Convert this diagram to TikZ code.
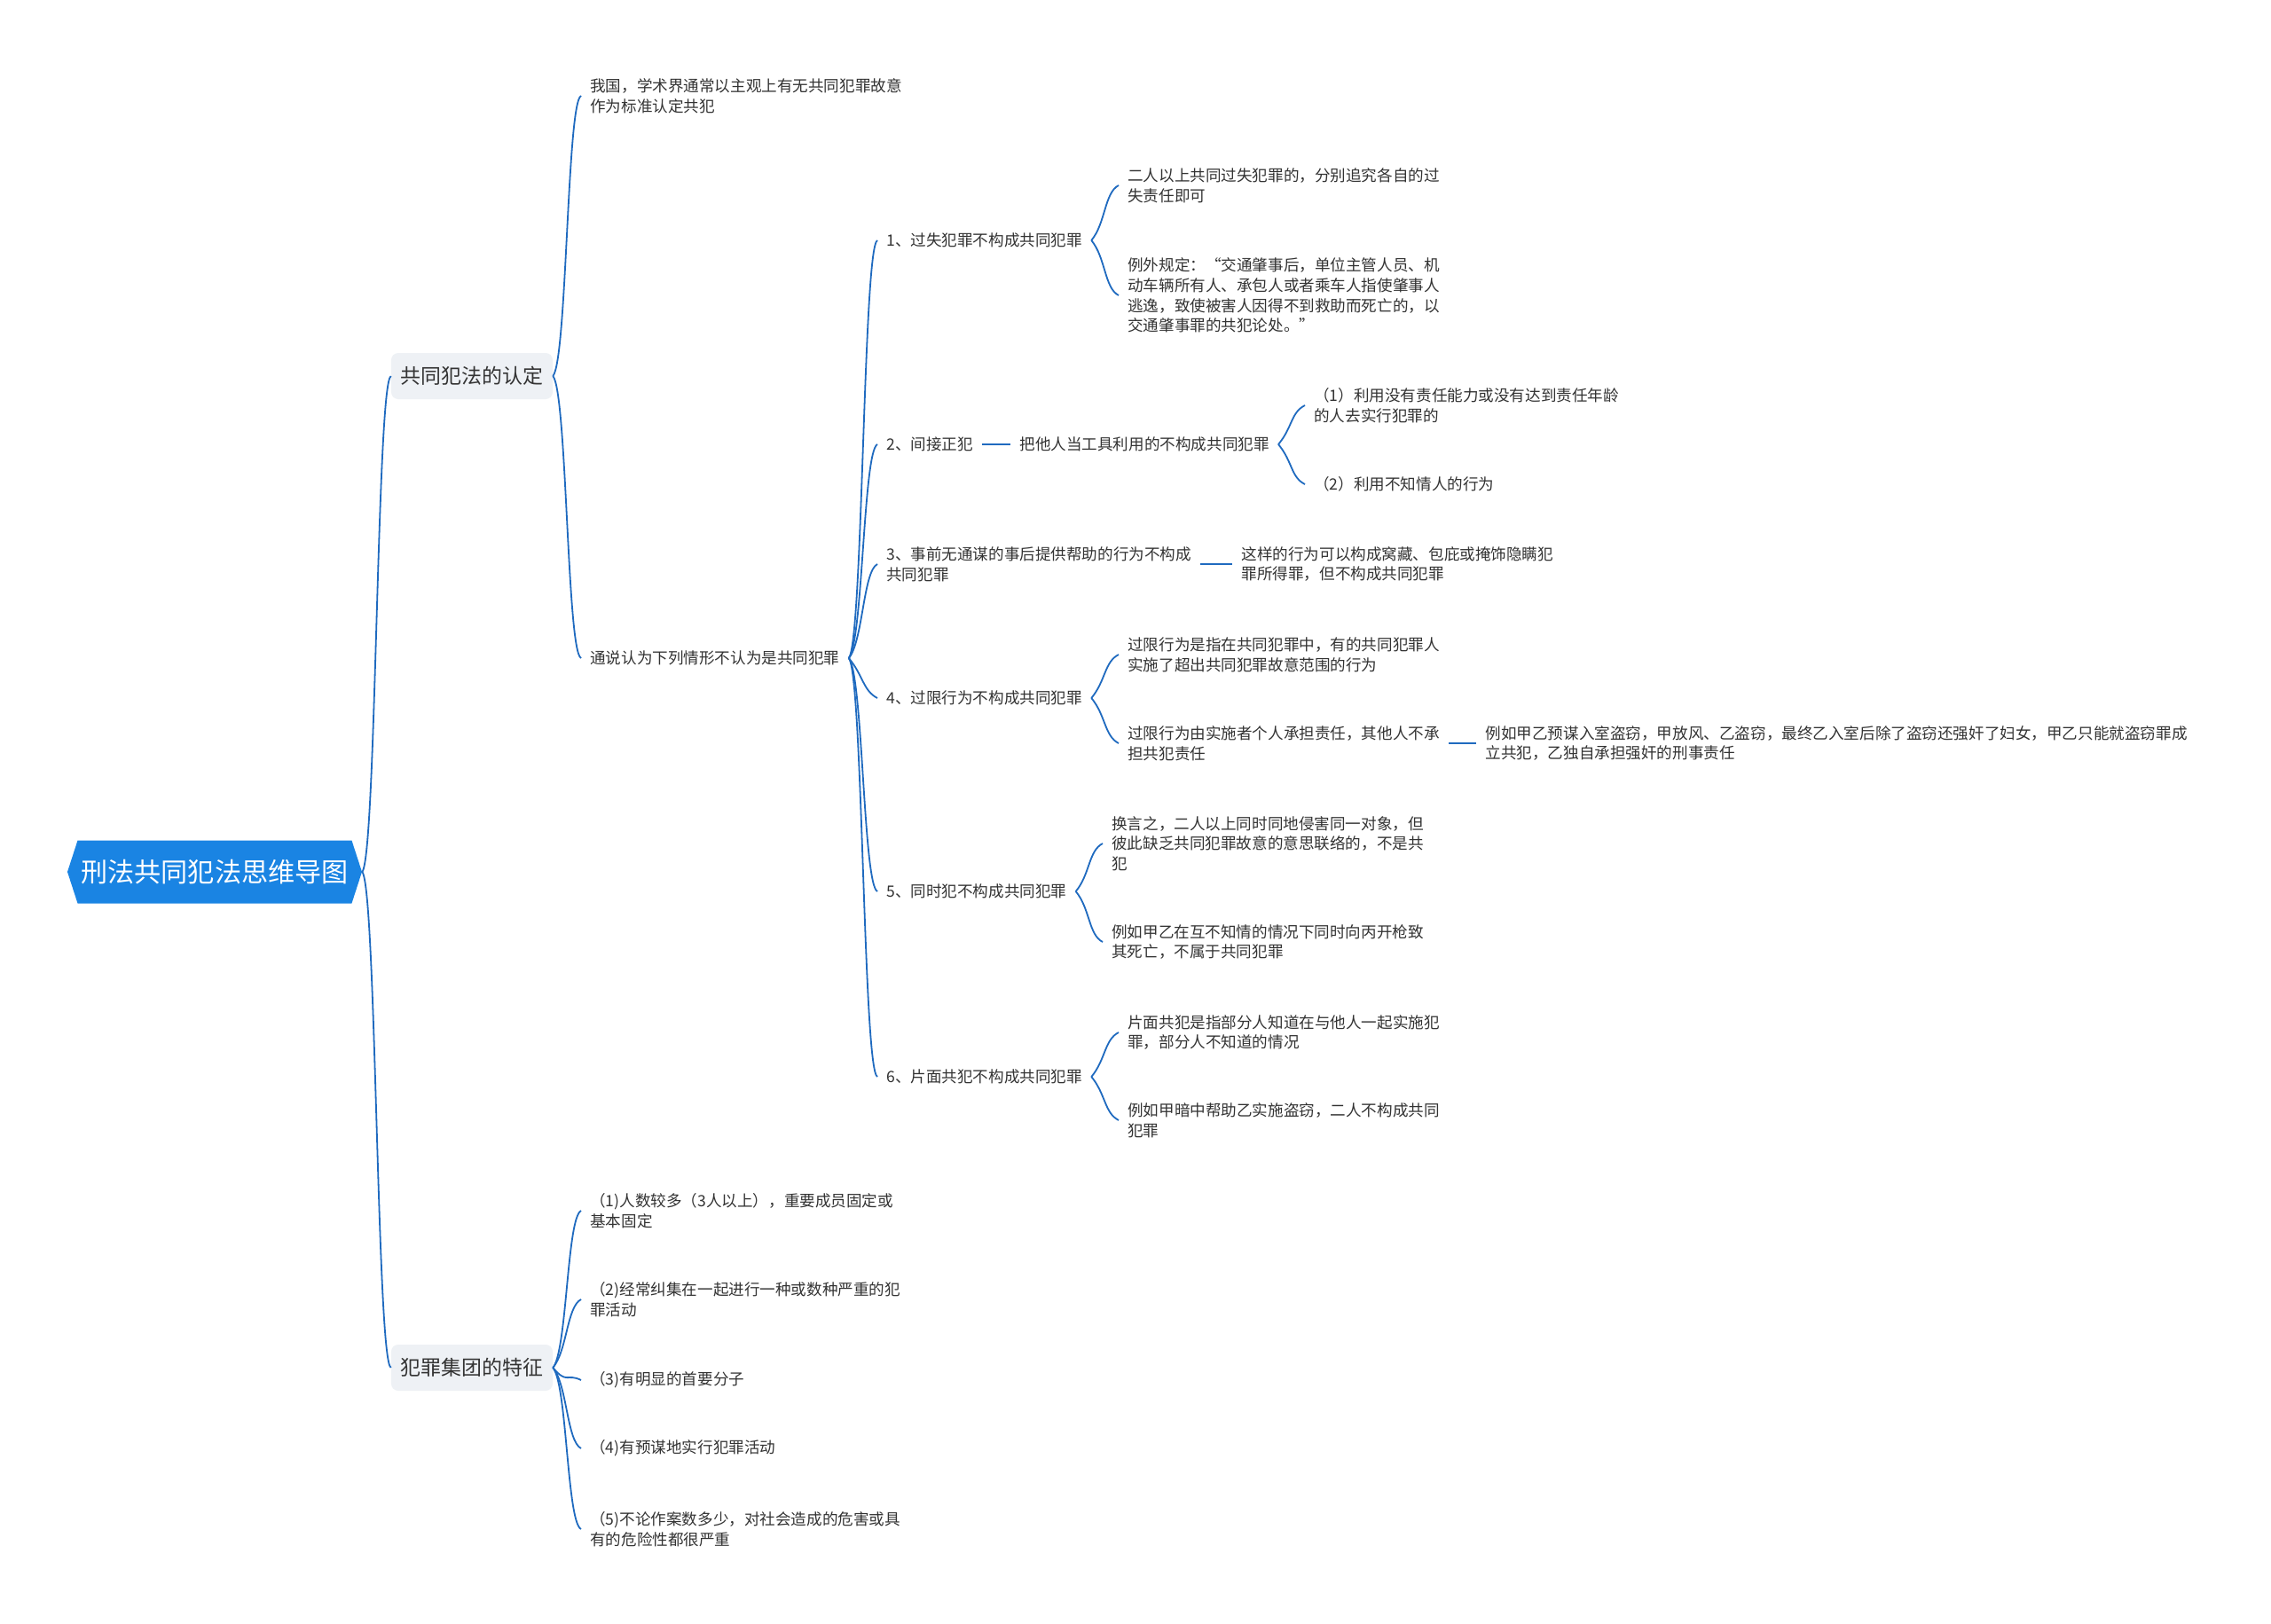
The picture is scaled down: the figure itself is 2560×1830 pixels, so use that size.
\documentclass[tikz,border=0pt]{standalone}
\usepackage{fontspec}
\setmainfont{Noto Sans CJK SC}
\usetikzlibrary{positioning,shapes.symbols}

\definecolor{linkblue}{HTML}{1F6ABF}
\definecolor{rootblue}{HTML}{1A84E3}
\definecolor{topicgray}{HTML}{EEF1F5}
\definecolor{textdark}{HTML}{333333}

\begin{document}
\begin{tikzpicture}[x=0.025cm, y=-0.025cm,
  root/.style={signal, signal to=east and west, signal pointer angle=144, fill=rootblue, text=white, font=\fontsize{21.4pt}{26pt}\selectfont, minimum height=1.775cm, inner xsep=0.1cm},
  topic/.style={rounded corners=0.2cm, fill=topicgray, text=textdark, font=\fontsize{16.3pt}{20pt}\selectfont, minimum width=4.55cm, minimum height=1.3cm},
  leaf/.style={anchor=west, align=left, inner xsep=0.25cm, inner ysep=0.1cm, text=textdark, font=\fontsize{12.5pt}{16.1pt}\selectfont},
  link/.style={draw=linkblue, line width=0.045cm},
  toup/.style={to path={.. controls +(16,-19) and +(-16,8) .. (\tikztotarget)}},
  todown/.style={to path={.. controls +(16,19) and +(-16,-8) .. (\tikztotarget)}}
]
\fill[white] (0,0) rectangle (2560,1830);

\node[root] (root) at (242,983) {刑法共同犯法思维导图};
\node[topic] (rec) at (532,424) {共同犯法的认定};
\node[topic] (grp) at (532,1542) {犯罪集团的特征};

\node[leaf] (view) at (655,108) {我国，学术界通常以主观上有无共同犯罪故意\\作为标准认定共犯};
\node[leaf] (common) at (655,742) {通说认为下列情形不认为是共同犯罪};

\node[leaf] (n1) at (989,271) {1、过失犯罪不构成共同犯罪};
\node[leaf] (n2) at (989,501) {2、间接正犯};
\node[leaf, right=0.8cm of n2] (n2tool) {把他人当工具利用的不构成共同犯罪};
\node[leaf] (n3) at (989,636) {3、事前无通谋的事后提供帮助的行为不构成\\共同犯罪};
\node[leaf, right=0.9cm of n3] (n3hide) {这样的行为可以构成窝藏、包庇或掩饰隐瞒犯\\罪所得罪，但不构成共同犯罪};
\node[leaf] (n4) at (989,787) {4、过限行为不构成共同犯罪};
\node[leaf] (n5) at (989,1005) {5、同时犯不构成共同犯罪};
\node[leaf] (n6) at (989,1214) {6、片面共犯不构成共同犯罪};

\node[leaf] (n1a) at (1261,209) {二人以上共同过失犯罪的，分别追究各自的过\\失责任即可};
\node[leaf] (n1b) at (1261,333) {例外规定：“交通肇事后，单位主管人员、机\\动车辆所有人、承包人或者乘车人指使肇事人\\逃逸，致使被害人因得不到救助而死亡的，以\\交通肇事罪的共犯论处。”};

\node[leaf] (n2a) at (1471,457) {（1）利用没有责任能力或没有达到责任年龄\\的人去实行犯罪的};
\node[leaf] (n2b) at (1471,546) {（2）利用不知情人的行为};

\node[leaf] (n4a) at (1261,738) {过限行为是指在共同犯罪中，有的共同犯罪人\\实施了超出共同犯罪故意范围的行为};
\node[leaf] (n4b) at (1261,838) {过限行为由实施者个人承担责任，其他人不承\\担共犯责任};
\node[leaf, right=0.78cm of n4b] (n4eg) {例如甲乙预谋入室盗窃，甲放风、乙盗窃，最终乙入室后除了盗窃还强奸了妇女，甲乙只能就盗窃罪成\\立共犯，乙独自承担强奸的刑事责任};

\node[leaf] (n5a) at (1243,951) {换言之，二人以上同时同地侵害同一对象，但\\彼此缺乏共同犯罪故意的意思联络的，不是共\\犯};
\node[leaf] (n5b) at (1243,1062) {例如甲乙在互不知情的情况下同时向丙开枪致\\其死亡，不属于共同犯罪};

\node[leaf] (n6a) at (1261,1164) {片面共犯是指部分人知道在与他人一起实施犯\\罪，部分人不知道的情况};
\node[leaf] (n6b) at (1261,1263) {例如甲暗中帮助乙实施盗窃，二人不构成共同\\犯罪};

\node[leaf] (g1) at (655,1365) {（1)人数较多（3人以上），重要成员固定或\\基本固定};
\node[leaf] (g2) at (655,1465) {（2)经常纠集在一起进行一种或数种严重的犯\\罪活动};
\node[leaf] (g3) at (655,1556) {（3)有明显的首要分子};
\node[leaf] (g4) at (655,1633) {（4)有预谋地实行犯罪活动};
\node[leaf] (g5) at (655,1724) {（5)不论作案数多少，对社会造成的危害或具\\有的危险性都很严重};

\draw[link] (root.east) to[toup] (rec.west);
\draw[link] (root.east) to[todown] (grp.west);

\draw[link] (rec.east) to[toup] (view.west);
\draw[link] (rec.east) to[todown] (common.west);

\draw[link] (common.east) to[toup] (n1.west);
\draw[link] (common.east) to[toup] (n2.west);
\draw[link] (common.east) to[toup] (n3.west);
\draw[link] (common.east) to[todown] (n4.west);
\draw[link] (common.east) to[todown] (n5.west);
\draw[link] (common.east) to[todown] (n6.west);

\draw[link] (n1.east) to[toup] (n1a.west);
\draw[link] (n1.east) to[todown] (n1b.west);
\draw[link] (n2.east) -- (n2tool.west);
\draw[link] (n2tool.east) to[toup] (n2a.west);
\draw[link] (n2tool.east) to[todown] (n2b.west);
\draw[link] (n3.east) -- (n3hide.west);
\draw[link] (n4.east) to[toup] (n4a.west);
\draw[link] (n4.east) to[todown] (n4b.west);
\draw[link] (n4b.east) -- (n4eg.west);
\draw[link] (n5.east) to[toup] (n5a.west);
\draw[link] (n5.east) to[todown] (n5b.west);
\draw[link] (n6.east) to[toup] (n6a.west);
\draw[link] (n6.east) to[todown] (n6b.west);

\draw[link] (grp.east) to[toup] (g1.west);
\draw[link] (grp.east) to[toup] (g2.west);
\draw[link] (grp.east) to[todown] (g3.west);
\draw[link] (grp.east) to[todown] (g4.west);
\draw[link] (grp.east) to[todown] (g5.west);

\end{tikzpicture}
\end{document}
